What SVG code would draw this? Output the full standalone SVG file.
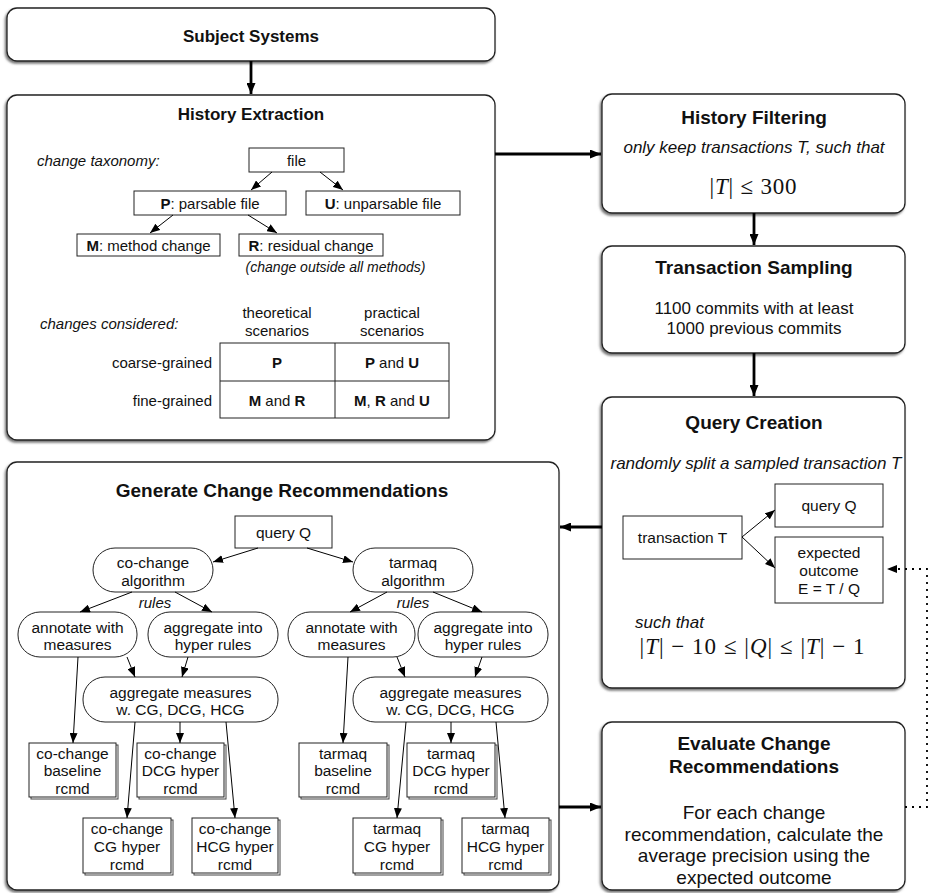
<svg xmlns="http://www.w3.org/2000/svg" width="935" height="893" viewBox="0 0 935 893">
<defs>
<filter id="sh" x="-5%" y="-5%" width="110%" height="115%">
<feDropShadow dx="-1.5" dy="2" stdDeviation="1" flood-color="#555" flood-opacity="0.8"/>
</filter>
<marker id="ah" markerUnits="userSpaceOnUse" markerWidth="12" markerHeight="9" refX="11" refY="4.5" orient="auto">
<path d="M0,0 L11,4.5 L0,9 z" fill="#000"/>
</marker>
<marker id="ahs" markerUnits="userSpaceOnUse" markerWidth="11" markerHeight="8" refX="10" refY="4" orient="auto">
<path d="M0,0 L10,4 L0,8 z" fill="#000"/>
</marker>
</defs>
<style>
text{font-family:"Liberation Sans",Arial,sans-serif;fill:#111;text-anchor:middle;dominant-baseline:central}
.big{fill:#fff;stroke:#222;stroke-width:1.3;filter:url(#sh)}
.t17{font-size:17px;font-weight:bold}
.t19{font-size:19px;font-weight:bold}
.b15{font-size:15px}
.b155{font-size:15.5px}
.b17{font-size:17px}
.b19{font-size:19px}
.it{font-style:italic}
.box{fill:#fff;stroke:#222;stroke-width:1}
.stk{fill:#fff;stroke:#444;stroke-width:1}
.thick{stroke:#000;stroke-width:2.8;fill:none;marker-end:url(#ah)}
.thin{stroke:#000;stroke-width:1;fill:none;marker-end:url(#ahs)}
.math{font-family:"Liberation Serif","Times New Roman",serif;font-size:23px}
.l{text-anchor:start}
.r{text-anchor:end}
</style>

<g id="subject-systems">
<rect class="big" x="7" y="8" width="488" height="53" rx="10"/>
<text class="t17" x="251" y="36">Subject Systems</text>
</g>

<g id="history-extraction">
<rect class="big" x="7" y="95" width="488" height="345" rx="10"/>
<text class="t17" x="251" y="114">History Extraction</text>
<text class="b15 it l" x="37" y="160">change taxonomy:</text>
<rect class="box" x="249" y="148" width="95" height="24"/>
<text class="b15" x="296.5" y="160">file</text>
<rect class="box" x="134" y="191" width="152" height="24"/>
<text class="b15" x="210" y="203"><tspan font-weight="bold">P</tspan>: parsable file</text>
<rect class="box" x="306" y="191" width="154" height="24"/>
<text class="b15" x="383" y="203"><tspan font-weight="bold">U</tspan>: unparsable file</text>
<rect class="box" x="77" y="234" width="143" height="22"/>
<text class="b15" x="148.5" y="245"><tspan font-weight="bold">M</tspan>: method change</text>
<rect class="box" x="239" y="234" width="144" height="22"/>
<text class="b15" x="311" y="245"><tspan font-weight="bold">R</tspan>: residual change</text>
<text class="it" font-size="14" x="335.5" y="267">(change outside all methods)</text>
<text class="b15 it l" x="40" y="323">changes considered:</text>
<text class="b15" x="277" y="312">theoretical</text>
<text class="b15" x="277" y="330">scenarios</text>
<text class="b15" x="392" y="312">practical</text>
<text class="b15" x="392" y="330">scenarios</text>
<rect class="box" x="220" y="343" width="229" height="75"/>
<line x1="220" y1="381" x2="449" y2="381" stroke="#222" stroke-width="1"/>
<line x1="335" y1="343" x2="335" y2="418" stroke="#222" stroke-width="1"/>
<text class="b15 r" x="212" y="362">coarse-grained</text>
<text class="b15 r" x="212" y="400">fine-grained</text>
<text class="b15" x="277" y="362" font-weight="bold">P</text>
<text class="b15" x="392" y="362"><tspan font-weight="bold">P</tspan> and <tspan font-weight="bold">U</tspan></text>
<text class="b15" x="277" y="400"><tspan font-weight="bold">M</tspan> and <tspan font-weight="bold">R</tspan></text>
<text class="b15" x="392" y="400"><tspan font-weight="bold">M</tspan>, <tspan font-weight="bold">R</tspan> and <tspan font-weight="bold">U</tspan></text>
</g>

<g id="history-filtering">
<rect class="big" x="602" y="94" width="303" height="119" rx="10"/>
<text class="t19" x="754" y="117">History Filtering</text>
<text class="b17 it" x="754" y="147">only keep transactions T, such that</text>
<text class="math" x="753" y="186" textLength="87" lengthAdjust="spacing">|<tspan font-style="italic">T</tspan>| ≤ 300</text>
</g>

<g id="transaction-sampling">
<rect class="big" x="602" y="246" width="303" height="107" rx="10"/>
<text class="t19" x="754" y="267">Transaction Sampling</text>
<text class="b17" x="754" y="308">1100 commits with at least</text>
<text class="b17" x="754" y="328">1000 previous commits</text>
</g>

<g id="query-creation">
<rect class="big" x="602" y="397" width="303" height="291" rx="10"/>
<text class="t19" x="754" y="422">Query Creation</text>
<text class="b17 it" x="756" y="463">randomly split a sampled transaction T</text>
<rect class="box" x="623" y="516" width="119" height="43"/>
<text class="b155" x="682.5" y="537.5">transaction T</text>
<rect class="box" x="775" y="484" width="108" height="43"/>
<text class="b155" x="829" y="505.5">query Q</text>
<rect class="box" x="775" y="537" width="108" height="66"/>
<text class="b155" x="829" y="552">expected</text>
<text class="b155" x="829" y="570">outcome</text>
<text class="b155" x="829" y="588">E = T / Q</text>
<text class="b17 it l" x="635" y="622">such that</text>
<text class="math" x="752" y="646" textLength="225" lengthAdjust="spacing">|<tspan font-style="italic">T</tspan>| − 10 ≤ |<tspan font-style="italic">Q</tspan>| ≤ |<tspan font-style="italic">T</tspan>| − 1</text>
</g>

<g id="evaluate-change-recommendations">
<rect class="big" x="602" y="722" width="303" height="168" rx="10"/>
<text class="t19" x="754" y="743">Evaluate Change</text>
<text class="t19" x="754" y="766">Recommendations</text>
<text class="b19" x="754" y="812">For each change</text>
<text class="b19" x="754" y="834">recommendation, calculate the</text>
<text class="b19" x="754" y="855">average precision using the</text>
<text class="b19" x="754" y="877">expected outcome</text>
</g>

<g id="generate-change-recommendations">
<rect class="big" x="7" y="462" width="552" height="428" rx="10"/>
<text class="t19" x="282" y="490">Generate Change Recommendations</text>
<rect class="box" x="235" y="516" width="97" height="32"/>
<text class="b155" x="283.5" y="532">query Q</text>

<rect class="box" x="93" y="548" width="120" height="44" rx="22"/>
<text class="b155" x="153" y="562">co-change</text>
<text class="b155" x="153" y="580">algorithm</text>
<rect class="box" x="353" y="548" width="120" height="44" rx="22"/>
<text class="b155" x="413" y="562">tarmaq</text>
<text class="b155" x="413" y="580">algorithm</text>
<text class="b15 it" x="155" y="602">rules</text>
<text class="b15 it" x="413" y="602">rules</text>

<rect class="box" x="18" y="612" width="119" height="45" rx="22"/>
<text class="b155" x="77.5" y="627">annotate with</text>
<text class="b155" x="77.5" y="644">measures</text>
<rect class="box" x="148" y="612" width="130" height="45" rx="22"/>
<text class="b155" x="213" y="627">aggregate into</text>
<text class="b155" x="213" y="644">hyper rules</text>
<rect class="box" x="288" y="612" width="127" height="45" rx="22"/>
<text class="b155" x="351.5" y="627">annotate with</text>
<text class="b155" x="351.5" y="644">measures</text>
<rect class="box" x="418" y="612" width="130" height="45" rx="22"/>
<text class="b155" x="483" y="627">aggregate into</text>
<text class="b155" x="483" y="644">hyper rules</text>

<rect class="box" x="83" y="677" width="195" height="45" rx="22"/>
<text class="b155" x="180.5" y="692">aggregate measures</text>
<text class="b155" x="180.5" y="709">w. CG, DCG, HCG</text>
<rect class="box" x="353" y="677" width="195" height="45" rx="22"/>
<text class="b155" x="450.5" y="692">aggregate measures</text>
<text class="b155" x="450.5" y="709">w. CG, DCG, HCG</text>

<g id="cc-baseline"><rect class="stk" x="31" y="745" width="87" height="54"/><rect class="box" x="29" y="743" width="87" height="54"/>
<text class="b155" x="72.5" y="753">co-change</text><text class="b155" x="72.5" y="770">baseline</text><text class="b155" x="72.5" y="788">rcmd</text></g>
<g id="cc-dcg"><rect class="stk" x="139" y="745" width="87" height="54"/><rect class="box" x="137" y="743" width="87" height="54"/>
<text class="b155" x="180.5" y="753">co-change</text><text class="b155" x="180.5" y="770">DCG hyper</text><text class="b155" x="180.5" y="788">rcmd</text></g>
<g id="cc-cg"><rect class="stk" x="85" y="820" width="88" height="55"/><rect class="box" x="83" y="818" width="88" height="55"/>
<text class="b155" x="127" y="828">co-change</text><text class="b155" x="127" y="846">CG hyper</text><text class="b155" x="127" y="864">rcmd</text></g>
<g id="cc-hcg"><rect class="stk" x="194" y="820" width="86" height="55"/><rect class="box" x="192" y="818" width="86" height="55"/>
<text class="b155" x="235" y="828">co-change</text><text class="b155" x="235" y="846">HCG hyper</text><text class="b155" x="235" y="864">rcmd</text></g>

<g id="tq-baseline"><rect class="stk" x="301" y="745" width="88" height="54"/><rect class="box" x="299" y="743" width="88" height="54"/>
<text class="b155" x="343" y="753">tarmaq</text><text class="b155" x="343" y="770">baseline</text><text class="b155" x="343" y="788">rcmd</text></g>
<g id="tq-dcg"><rect class="stk" x="409" y="745" width="88" height="54"/><rect class="box" x="407" y="743" width="88" height="54"/>
<text class="b155" x="451" y="753">tarmaq</text><text class="b155" x="451" y="770">DCG hyper</text><text class="b155" x="451" y="788">rcmd</text></g>
<g id="tq-cg"><rect class="stk" x="355" y="820" width="88" height="55"/><rect class="box" x="353" y="818" width="88" height="55"/>
<text class="b155" x="397" y="828">tarmaq</text><text class="b155" x="397" y="846">CG hyper</text><text class="b155" x="397" y="864">rcmd</text></g>
<g id="tq-hcg"><rect class="stk" x="464" y="820" width="87" height="55"/><rect class="box" x="462" y="818" width="87" height="55"/>
<text class="b155" x="505.5" y="828">tarmaq</text><text class="b155" x="505.5" y="846">HCG hyper</text><text class="b155" x="505.5" y="864">rcmd</text></g>
</g>

<g id="connectors">
<line class="thick" x1="251" y1="61" x2="251" y2="94"/>
<line class="thick" x1="495" y1="154" x2="601" y2="154"/>
<line class="thick" x1="754" y1="213" x2="754" y2="245"/>
<line class="thick" x1="754" y1="353" x2="754" y2="396"/>
<line class="thick" x1="602" y1="527" x2="560" y2="527"/>
<line class="thick" x1="559" y1="807" x2="601" y2="807"/>

<line class="thin" x1="272" y1="172" x2="251" y2="190"/>
<line class="thin" x1="320" y1="172" x2="343" y2="190"/>
<line class="thin" x1="173" y1="215" x2="150" y2="233"/>
<line class="thin" x1="248" y1="215" x2="277" y2="233"/>

<line class="thin" x1="742" y1="537" x2="775" y2="510"/>
<line class="thin" x1="742" y1="537" x2="775" y2="568"/>
<path d="M905,807 H927 V569 H887" fill="none" stroke="#000" stroke-width="1.8" stroke-dasharray="2,5" marker-end="url(#ahs)"/>

<line class="thin" x1="258" y1="548" x2="213" y2="562"/>
<line class="thin" x1="307" y1="548" x2="353" y2="562"/>
<line class="thin" x1="132" y1="592" x2="80" y2="612"/>
<line class="thin" x1="175" y1="592" x2="212" y2="612"/>
<line class="thin" x1="387" y1="592" x2="350" y2="612"/>
<line class="thin" x1="433" y1="592" x2="482" y2="612"/>
<line class="thin" x1="127" y1="657" x2="135" y2="677"/>
<line class="thin" x1="188" y1="657" x2="182" y2="677"/>
<line class="thin" x1="397" y1="657" x2="405" y2="677"/>
<line class="thin" x1="482" y1="657" x2="475" y2="677"/>
<line class="thin" x1="78" y1="657" x2="73" y2="743"/>
<line class="thin" x1="180" y1="722" x2="180" y2="743"/>
<line class="thin" x1="135" y1="722" x2="127" y2="818"/>
<line class="thin" x1="226" y1="722" x2="235" y2="818"/>
<line class="thin" x1="348" y1="657" x2="343" y2="743"/>
<line class="thin" x1="451" y1="722" x2="451" y2="743"/>
<line class="thin" x1="406" y1="722" x2="397" y2="818"/>
<line class="thin" x1="496" y1="722" x2="505" y2="818"/>
</g>
</svg>
